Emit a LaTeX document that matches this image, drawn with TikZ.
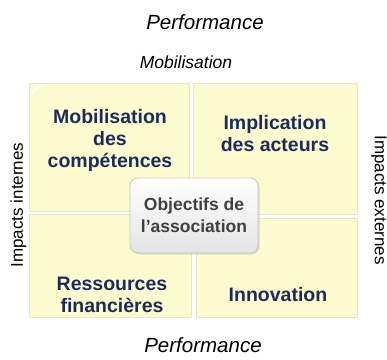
\documentclass[tikz,border=0pt]{standalone}
\usepackage{fontspec}
\setmainfont{Liberation Sans}
\usepackage{tikz}
\usetikzlibrary{shadows}
\definecolor{quadfill}{HTML}{FDFCCF}
\definecolor{quadline}{HTML}{E9E7C4}
\definecolor{navy}{HTML}{1C2B5E}
\definecolor{boxtext}{HTML}{404040}
\definecolor{boxline}{HTML}{C6C6C6}
\definecolor{boxbottom}{HTML}{E4E4E4}
\tikzset{
  quad/.style={fill=quadfill, draw=quadline, line width=0.6pt},
  gloss/.style={draw=white, line width=2pt, line cap=round, opacity=0.8},
  qlbl/.style={text=navy, align=center, inner sep=0pt,
    font=\fontsize{19.5}{22}\selectfont\bfseries},
  centrebox/.style={rounded corners=8pt, draw=boxline, line width=0.8pt,
    top color=white, bottom color=boxbottom, minimum width=128pt,
    minimum height=75pt, align=center, text=boxtext,
    font=\fontsize{17.5}{22}\selectfont\bfseries,
    drop shadow={opacity=0.25, shadow xshift=1.5pt, shadow yshift=-1.5pt}},
  ttl/.style={text=black, font=\fontsize{20.5}{24}\selectfont\itshape, inner sep=0pt},
  subttl/.style={text=black, font=\fontsize{17.5}{21}\selectfont\itshape, inner sep=0pt},
  side/.style={text=black, font=\fontsize{17}{20}\selectfont, inner sep=0pt}
}
\begin{document}
\begin{tikzpicture}[x=1pt, y=-1pt]
  \useasboundingbox (0,0) rectangle (387,359);
  \draw[quad] (29,83) rectangle (189,211);
  \draw[quad] (193,83) rectangle (357,214);
  \draw[quad] (29,214) rectangle (191,317);
  \draw[quad] (196,218) rectangle (357,317);
  \draw[gloss] (31,95) to[bend left=30] (44,85);
  \draw[gloss] (200,86) -- (350,86);
  \node[qlbl] (mobcomp) at (110,140) {Mobilisation\\des\\compétences};
  \node[qlbl] (implic) at (275,134) {Implication\\des acteurs};
  \node[qlbl] (ressources) at (112,295) {Ressources\\financières};
  \node[qlbl] (innov) at (278,295) {Innovation};
  \node[centrebox] (objectifs) at (194,215.5) {Objectifs de\\l’association};
  \node[ttl] (perfhaut) at (205,22) {Performance};
  \node[subttl] (mobil) at (186,62) {Mobilisation};
  \node[ttl] (perfbas) at (203,345) {Performance};
  \node[side, rotate=90] (internes) at (18.5,205) {Impacts internes};
  \node[side, rotate=-90] (externes) at (379,200) {Impacts externes};
\end{tikzpicture}
\end{document}
